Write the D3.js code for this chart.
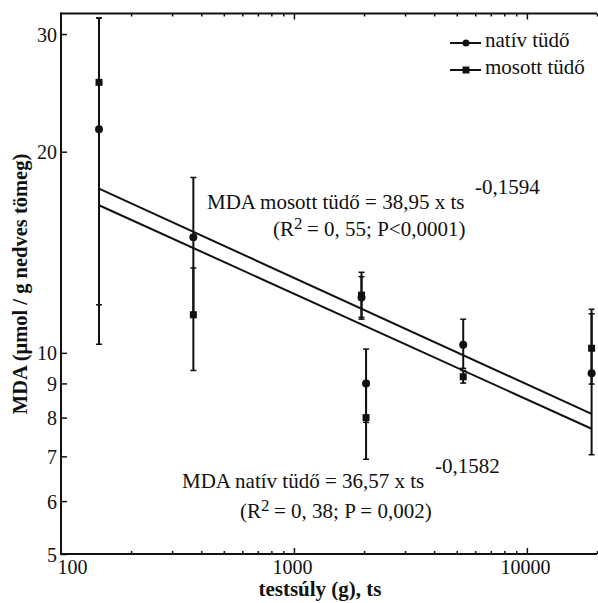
<!DOCTYPE html>
<html>
<head>
<meta charset="utf-8">
<script src="https://cdn.jsdelivr.net/npm/d3@7"></script>
<style>
  html, body { margin: 0; padding: 0; background: #fff; }
  svg { display: block; }
  text { font-family: "Liberation Serif", "Times New Roman", serif; fill: #111; }
</style>
</head>
<body>
<svg id="chart" width="598" height="603"></svg>
<script>
// Body mass of the species (g) and lung MDA content (µmol / g wet weight)
const bodyMassG   = [145.6, 370, 1950, 2040, 5330, 18960];
const nativMDA    = [21.6, 14.9, 12.1, 9.0, 10.28, 9.32];
const nativLow    = [10.3, 11.5, 11.3, 7.87, 9.48, 7.04];
const nativHigh   = [31.7, 18.3, 13.0, 10.13, 11.23, 11.62];
const mosottMDA   = [25.4, 11.4, 12.2, 8.0, 9.21, 10.16];
const mosottLow   = [11.8, 9.41, 11.23, 6.93, 9.01, 8.98];
const mosottHigh  = [31.7, 13.4, 13.2, 9.07, 9.41, 11.44];

// Power-law fits: MDA = a * ts^b
const fitNativ  = { a: 36.57, b: -0.1582 };
const fitMosott = { a: 38.95, b: -0.1594 };
const statsNativ  = ["0, 38; P = 0,002)"];
const statsMosott = ["0, 55; P<0,0001)"];

const yTickValues = [5, 6, 7, 8, 9, 10, 20, 30];
const xTickLabels = [100, 1000, 10000];
const legendLabels = ["natív tüdő", "mosott tüdő"];

const svg = d3.select("#chart");
const ink = "#111";

const x = d3.scaleLog().domain([100, 20000]).range([61, 597]);
const y = d3.scaleLog().domain([5, 32.2]).range([554, 13.5]);
const [plotLeft, plotRight] = x.range();
const [plotBottom, plotTop] = y.range();

// Hungarian number style: decimal comma, plain hyphen for minus
const huLocale = d3.formatLocale({ decimal: ",", thousands: " ", grouping: [3], currency: ["", ""], minus: "-" });
const comma = (v, d) => huLocale.format("." + d + "f")(v);

// frame
const frame = svg.append("g").attr("stroke", ink).attr("stroke-width", 2);
frame.append("line").attr("x1", plotLeft).attr("x2", plotLeft).attr("y1", plotTop - 1).attr("y2", plotBottom + 1);
frame.append("line").attr("x1", plotLeft - 1).attr("x2", plotRight).attr("y1", plotBottom).attr("y2", plotBottom);
frame.append("line").attr("x1", plotLeft - 1).attr("x2", plotRight).attr("y1", plotTop).attr("y2", plotTop);

// x axes (bottom with labels, top mirrored)
const xTicks = x.ticks().filter(v => v > 100);
const isMajor = v => Math.abs(Math.log10(v) - Math.round(Math.log10(v))) < 1e-9;

const gx = svg.append("g").attr("transform", `translate(0,${plotBottom})`)
  .call(d3.axisBottom(x).tickValues(xTicks).tickSizeInner(-3).tickSizeOuter(0)
    .tickFormat(() => ""));
gx.select(".domain").remove();
gx.selectAll(".tick line").attr("stroke", ink).attr("stroke-width", 1.5)
  .attr("y2", d => isMajor(d) ? -6 : -3);

const gxl = svg.append("g").attr("transform", `translate(0,${plotBottom})`)
  .call(d3.axisBottom(x).tickValues(xTickLabels).tickSize(0).tickFormat(d3.format("d")));
gxl.select(".domain").remove();
gxl.selectAll(".tick line").remove();
gxl.selectAll(".tick text")
  .attr("dy", null).attr("y", 20)
  .attr("font-size", 20).attr("fill", ink)
  .attr("text-anchor", (d, i) => i === 0 ? "start" : "middle")
  .attr("x", (d, i) => i === 0 ? -4 : -2);

const gxt = svg.append("g").attr("transform", `translate(0,${plotTop})`)
  .call(d3.axisTop(x).tickValues(xTicks).tickSizeInner(-3).tickSizeOuter(0).tickFormat(() => ""));
gxt.select(".domain").remove();
gxt.selectAll(".tick line").attr("stroke", ink).attr("stroke-width", 1.5)
  .attr("y2", d => isMajor(d) ? 6 : 3);

// y axis
const gy = svg.append("g").attr("transform", `translate(${plotLeft},0)`)
  .call(d3.axisLeft(y).tickValues(yTickValues).tickSizeInner(-6).tickSizeOuter(0)
    .tickPadding(4).tickFormat(d3.format("d")));
gy.select(".domain").remove();
gy.selectAll(".tick line").attr("stroke", ink).attr("stroke-width", 1.5);
gy.selectAll(".tick text").attr("font-size", 20).attr("fill", ink)
  .attr("dy", null).attr("y", 7).attr("x", -4);

// axis titles
svg.append("text")
  .attr("transform", `translate(27,284) rotate(-90)`)
  .attr("text-anchor", "middle").attr("font-size", 20.5).attr("font-weight", "bold")
  .text("MDA (μmol / g nedves tömeg)");
svg.append("text")
  .attr("x", 320).attr("y", 596)
  .attr("text-anchor", "middle").attr("font-size", 21).attr("font-weight", "bold")
  .text("testsúly (g), ts");

// regression lines
const massExtent = d3.extent(bodyMassG);
const fitLine = d3.line().x(d => x(d[0])).y(d => y(d[1]));
[fitMosott, fitNativ].forEach(f => {
  const pts = massExtent.map(m => [m, f.a * Math.pow(m, f.b)]);
  svg.append("path").attr("d", fitLine(pts))
    .attr("fill", "none").attr("stroke", ink).attr("stroke-width", 2);
});

// error bars
function errorBars(lows, highs) {
  const g = svg.append("g").attr("stroke", ink);
  bodyMassG.forEach((m, i) => {
    const cx = x(m);
    g.append("line").attr("x1", cx).attr("x2", cx)
      .attr("y1", y(lows[i])).attr("y2", y(highs[i])).attr("stroke-width", 2);
    [lows[i], highs[i]].forEach(v => {
      g.append("line").attr("x1", cx - 3).attr("x2", cx + 3)
        .attr("y1", y(v)).attr("y2", y(v)).attr("stroke-width", 1.5);
    });
  });
}
errorBars(nativLow, nativHigh);
errorBars(mosottLow, mosottHigh);

// markers
svg.append("g").selectAll("circle").data(nativMDA).join("circle")
  .attr("cx", (d, i) => x(bodyMassG[i])).attr("cy", d => y(d)).attr("r", 4)
  .attr("fill", ink);
svg.append("g").selectAll("rect").data(mosottMDA).join("rect")
  .attr("x", (d, i) => x(bodyMassG[i]) - 3.5).attr("y", d => y(d) - 3.5)
  .attr("width", 7).attr("height", 7).attr("fill", ink);

// legend
const legend = svg.append("g");
legendLabels.forEach((label, i) => {
  const ly = 43 + i * 27;
  legend.append("line").attr("x1", 450).attr("x2", 481).attr("y1", ly).attr("y2", ly)
    .attr("stroke", ink).attr("stroke-width", 2);
  if (i === 0) {
    legend.append("circle").attr("cx", 466).attr("cy", ly).attr("r", 3.5).attr("fill", ink);
  } else {
    legend.append("rect").attr("x", 462.5).attr("y", ly - 3.5).attr("width", 7).attr("height", 7).attr("fill", ink);
  }
  legend.append("text").attr("x", 485).attr("y", ly + 4).attr("font-size", 21).text(label);
});

// fit equations: main line, exponent, and the statistics line with R²
function equation(name, f, stats, x0, yBase, xSup, x2, y2) {
  svg.append("text").attr("x", x0).attr("y", yBase).attr("font-size", 21)
    .text(`MDA ${name} = ${comma(f.a, 2)} x ts`);
  svg.append("text").attr("x", xSup).attr("y", yBase - 15).attr("font-size", 21)
    .text(comma(f.b, 4));
  svg.append("text").attr("x", x2).attr("y", y2).attr("font-size", 21).text("(R");
  svg.append("text").attr("x", x2 + 21).attr("y", y2 - 7).attr("font-size", 17).text("2");
  svg.append("text").attr("x", x2 + 34).attr("y", y2).attr("font-size", 21).text("= " + stats[0]);
}
equation("mosott tüdő", fitMosott, statsMosott, 207, 209, 475, 273, 236);
equation("natív tüdő", fitNativ, statsNativ, 182, 488, 435, 240, 518);
</script>
</body>
</html>
